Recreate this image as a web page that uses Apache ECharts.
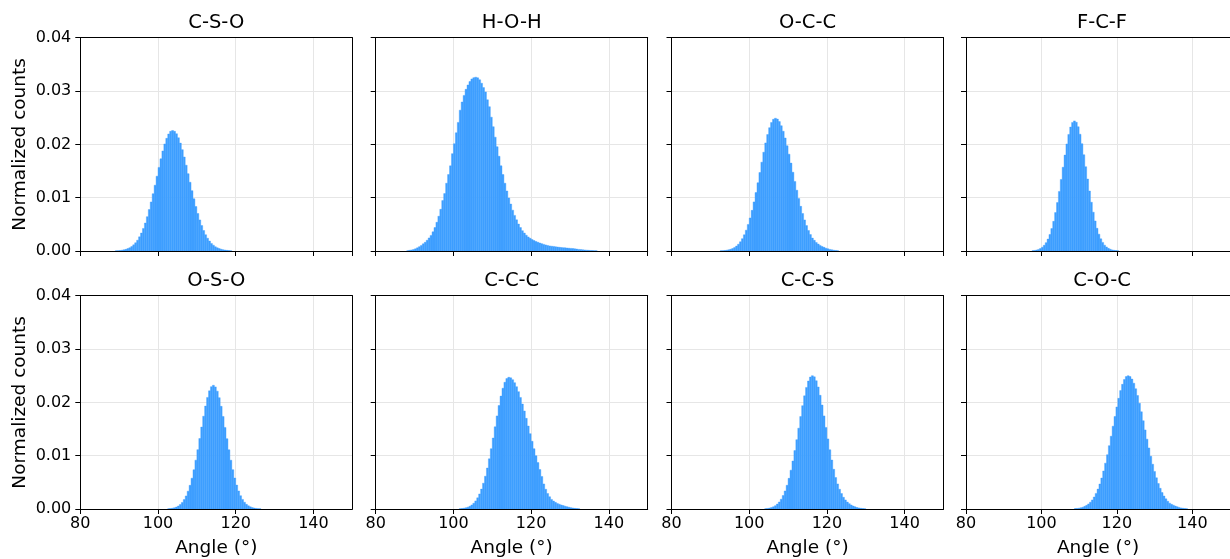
<!DOCTYPE html>
<html>
<head>
<meta charset="utf-8">
<script src="https://cdn.jsdelivr.net/npm/echarts@6/dist/echarts.min.js"></script>
<style>
html,body{margin:0;padding:0;background:#fff;}
#chart{width:1230px;height:559px;}
</style>
</head>
<body>
<div id="chart"></div>
<script>
// ---------------- data ----------------
const panelTitles = ['C-S-O', 'H-O-H', 'O-C-C', 'F-C-F', 'O-S-O', 'C-C-C', 'C-C-S', 'C-O-C'];
const binWidth = 0.5;
const binStarts = [89.0, 88.0, 92.5, 97.5, 102.5, 101.5, 104.0, 108.75];

const csoCounts = [0.00004,0.00007,0.0001,0.00015,0.00022,0.00031,0.00045,0.00062,0.00085,0.00115,0.00154,0.00203,0.00265,0.00337,0.00423,0.00524,0.00644,0.00777,0.0092,0.01074,0.01234,0.01403,0.01568,0.01729,0.01876,0.02007,0.02113,0.02194,0.02244,0.0226,0.02244,0.02199,0.02124,0.02023,0.01901,0.01763,0.01609,0.01451,0.0129,0.01132,0.00979,0.00834,0.00703,0.00583,0.00477,0.00384,0.00305,0.0024,0.00186,0.00142,0.0011,0.0008,0.0006,0.00045,0.00033,0.00024,0.00017,0.00012,0.00008,0.00005];

const hohCounts = [0.00007,0.00013,0.0002,0.00029,0.00042,0.00059,0.00082,0.00104,0.00134,0.00163,0.00202,0.00245,0.00293,0.00359,0.0044,0.00538,0.00652,0.00782,0.00945,0.01076,0.01271,0.01434,0.01597,0.01826,0.02011,0.02217,0.02412,0.02641,0.02794,0.02918,0.03032,0.03113,0.03179,0.03227,0.0325,0.0326,0.03247,0.03211,0.03146,0.03064,0.02983,0.02836,0.02706,0.0251,0.02331,0.02135,0.01956,0.01777,0.01597,0.01434,0.01271,0.01125,0.00994,0.0088,0.00766,0.00668,0.00584,0.00505,0.0044,0.00381,0.00336,0.00297,0.00264,0.00238,0.00215,0.00196,0.00179,0.00163,0.0015,0.00137,0.00124,0.00114,0.00104,0.00095,0.0009,0.00086,0.0008,0.00075,0.0007,0.00065,0.00062,0.00059,0.00055,0.00052,0.00049,0.00046,0.0004,0.00036,0.0003,0.00026,0.00023,0.0002,0.00016,0.00013,0.0001,0.00008,0.00006,0.00005];

const occCounts = [0.00004,0.00006,0.0001,0.00015,0.00022,0.00032,0.00047,0.00067,0.00093,0.00128,0.00173,0.00232,0.00304,0.00391,0.00498,0.0062,0.00762,0.00921,0.01096,0.0128,0.01472,0.01666,0.01853,0.02027,0.02184,0.02313,0.0241,0.0247,0.0249,0.02474,0.02427,0.02349,0.02246,0.02119,0.01974,0.01816,0.01648,0.01477,0.01305,0.0114,0.00984,0.00837,0.00703,0.00583,0.00476,0.00385,0.00308,0.00242,0.002,0.0016,0.0013,0.00105,0.00085,0.00068,0.00053,0.0004,0.0003,0.00022,0.00015,0.0001,0.00006];

const fcfCounts = [0.00007,0.00011,0.00019,0.0003,0.00047,0.00072,0.00107,0.00157,0.00223,0.0031,0.0042,0.00556,0.0072,0.00908,0.01117,0.01342,0.01571,0.01798,0.02007,0.02186,0.02324,0.02411,0.0244,0.02415,0.0233,0.0219,0.02012,0.01805,0.0158,0.0135,0.01125,0.00915,0.00728,0.00563,0.00426,0.00316,0.00228,0.00161,0.0011,0.00076,0.0005,0.00033,0.00021,0.00013,0.00008,0.00005];

const osoCounts = [0.00005,0.00009,0.00015,0.00024,0.00037,0.00056,0.00084,0.00123,0.00176,0.00245,0.00334,0.00444,0.00578,0.00736,0.00916,0.01113,0.01322,0.01536,0.0174,0.0193,0.02093,0.02216,0.02294,0.0232,0.0229,0.0221,0.02088,0.01925,0.01735,0.0153,0.01318,0.0111,0.00915,0.00738,0.00581,0.00448,0.00338,0.00249,0.0018,0.00127,0.00088,0.0006,0.0004,0.00026,0.00017,0.00011,0.00007,0.00004];

const cccCounts = [0.00006,0.0001,0.00015,0.00023,0.00035,0.00052,0.00076,0.00108,0.00152,0.00209,0.00282,0.00373,0.00484,0.00615,0.00768,0.00941,0.01131,0.01331,0.01541,0.01746,0.01941,0.02117,0.02265,0.02376,0.02446,0.0247,0.02459,0.02425,0.02369,0.02294,0.02201,0.02092,0.01969,0.01838,0.017,0.01556,0.01413,0.0127,0.01131,0.00998,0.0087,0.0074,0.0061,0.0047,0.0037,0.0029,0.0023,0.0018,0.0015,0.00125,0.00105,0.0009,0.00076,0.00064,0.00052,0.00042,0.00033,0.00025,0.00018,0.00012,0.00008,0.00005];

const ccsCounts = [0.00007,0.00011,0.00018,0.00028,0.00042,0.00063,0.00092,0.00131,0.00184,0.00253,0.00338,0.00445,0.00575,0.00728,0.009,0.01095,0.013,0.01516,0.01733,0.01938,0.02122,0.0228,0.024,0.02475,0.025,0.02478,0.02405,0.02288,0.02132,0.0195,0.01746,0.0153,0.01315,0.0111,0.00918,0.00745,0.0059,0.0047,0.0037,0.0029,0.0022,0.0017,0.0013,0.001,0.00075,0.00055,0.0004,0.00028,0.0002,0.00013,0.00008,0.00005];

const cocCounts = [0.00008,0.00011,0.00016,0.00024,0.00034,0.0005,0.00069,0.00095,0.00128,0.0017,0.00225,0.00293,0.00373,0.00468,0.0058,0.00713,0.0086,0.01018,0.01188,0.01365,0.01553,0.01735,0.01913,0.02075,0.0222,0.02338,0.02428,0.02483,0.025,0.02484,0.02436,0.02359,0.02255,0.02128,0.01983,0.01823,0.01655,0.01483,0.0131,0.01145,0.00988,0.0084,0.00705,0.00585,0.00478,0.00388,0.00309,0.00243,0.0019,0.00145,0.0011,0.00088,0.00072,0.00055,0.00041,0.0003,0.00021,0.00014,0.0001,0.00006];

const panelCounts = [csoCounts, hohCounts, occCounts, fcfCounts, osoCounts, cccCounts, ccsCounts, cocCounts];

const xMin = 80, xMax = 150, xStep = 20;
const yMin = 0, yMax = 0.04, yStep = 0.01;
const xAxisTitle = 'Angle (°)';
const yAxisTitle = 'Normalized counts';

// ---------------- layout ----------------
const colLeft = [80.3, 375.7, 671.5, 966];
const rowTop = [37.7, 295.7];
const gridW = 272, gridH = 213.3;
const barColor = '#3e9fff';
const font = 'DejaVu Sans';

const chart = echarts.init(document.getElementById('chart'), null, {renderer: 'canvas'});

const grids = [], xAxes = [], yAxes = [], titles = [], series = [];
const frameAxis = {show: true, onZero: false, lineStyle: {color: '#000', width: 1}};
panelTitles.forEach((name, i) => {
  const c = i % 4, r = Math.floor(i / 4);
  grids.push({left: colLeft[c], top: rowTop[r], width: gridW, height: gridH,
    show: false, containLabel: false});
  titles.push({text: name, left: colLeft[c] + gridW / 2, top: rowTop[r] - 25, textAlign: 'center', padding: 0,
    textStyle: {fontFamily: font, fontSize: 19.5, fontWeight: 'normal', color: '#000'}});
  xAxes.push({
    type: 'value', gridIndex: i, min: xMin, max: xMax, interval: xStep, position: 'bottom',
    name: r === 1 ? xAxisTitle : '', nameLocation: 'middle', nameGap: 30,
    nameTextStyle: {fontFamily: font, fontSize: 18.5, color: '#000'},
    axisLine: {show: true, onZero: false, lineStyle: {color: '#000', width: 1}},
    axisTick: {show: true, length: 5, inside: false, lineStyle: {color: '#000', width: 1}},
    axisLabel: {show: r === 1, showMaxLabel: false, margin: 7, fontFamily: font, fontSize: 16, color: '#000'},
    splitLine: {show: true, lineStyle: {color: '#e6e6e6', width: 1}},
    z: 1
  });
  yAxes.push({
    type: 'value', gridIndex: i, min: yMin, max: yMax, interval: yStep, position: 'left',
    name: c === 0 ? yAxisTitle : '', nameLocation: 'middle', nameGap: 51, nameRotate: 90,
    nameTextStyle: {fontFamily: font, fontSize: 18.5, color: '#000'},
    axisLine: {show: true, onZero: false, lineStyle: {color: '#000', width: 1}},
    axisTick: {show: true, length: 5, inside: false, lineStyle: {color: '#000', width: 1}},
    axisLabel: {show: c === 0, margin: 9, fontFamily: font, fontSize: 16, color: '#000',
      formatter: v => v.toFixed(2)},
    splitLine: {show: true, lineStyle: {color: '#e6e6e6', width: 1}},
    z: 1
  });
  const start = binStarts[i];
  const data = panelCounts[i].map((v, j) => [start + j * binWidth, start + (j + 1) * binWidth, v]);
  series.push({
    type: 'custom', xAxisIndex: i, yAxisIndex: i, data: data, clip: true, z: 2,
    encode: {x: [0, 1], y: 2},
    renderItem: function (params, api) {
      const p0 = api.coord([api.value(0), api.value(2)]);
      const p1 = api.coord([api.value(1), 0]);
      return {type: 'rect',
        shape: {x: p0[0], y: p0[1], width: p1[0] - p0[0], height: p1[1] - p0[1]},
        style: {fill: barColor, stroke: barColor, lineWidth: 0.4}};
    }
  });
});
// frame axes (top and right spines)
panelTitles.forEach((name, i) => {
  xAxes.push({type: 'value', gridIndex: i, min: xMin, max: xMax, position: 'top',
    axisLine: frameAxis, axisTick: {show: false}, axisLabel: {show: false}, splitLine: {show: false}, z: 5});
  yAxes.push({type: 'value', gridIndex: i, min: yMin, max: yMax, position: 'right',
    axisLine: frameAxis, axisTick: {show: false}, axisLabel: {show: false}, splitLine: {show: false}, z: 5});
});

chart.setOption({
  animation: false,
  backgroundColor: '#ffffff',
  title: titles,
  grid: grids,
  xAxis: xAxes,
  yAxis: yAxes,
  series: series
});
</script>
</body>
</html>
